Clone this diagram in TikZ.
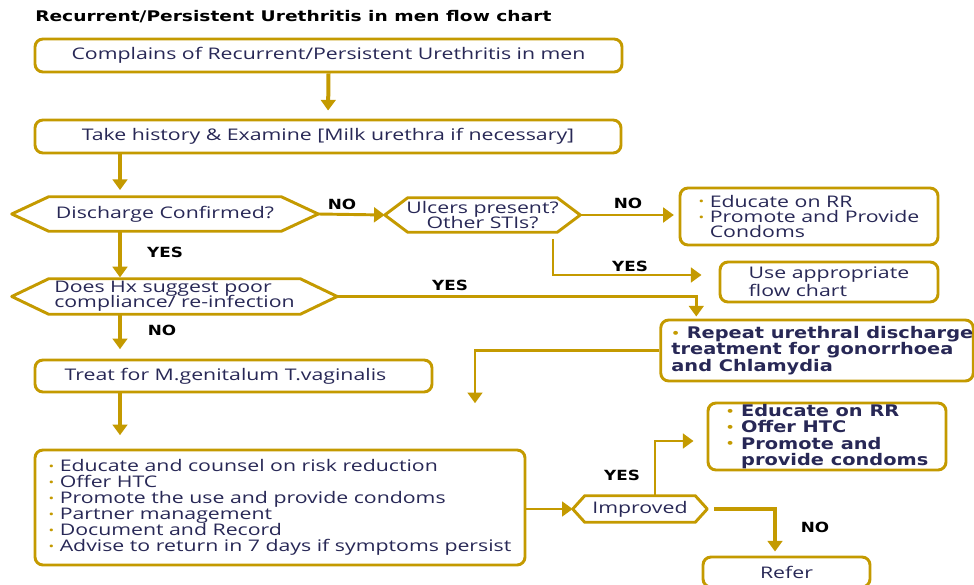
\documentclass[tikz,border=0pt]{standalone}
\usepackage{fontspec}
\setmainfont{Open Sans}[FakeStretch=1.33]
\newfontfamily\heavyfont{DejaVu Sans}[FakeStretch=1.21]
\newfontfamily\titlefont{DejaVu Sans}[FakeStretch=1.27]
\newfontfamily\labelfont{DejaVu Sans}[FakeStretch=1.2]
\usetikzlibrary{arrows.meta,calc}

\definecolor{gold}{RGB}{196,154,0}
\definecolor{ink}{RGB}{40,40,86}

% small gold bullet for list items
\newcommand{\bul}{{\color{gold}\raisebox{0.15ex}{\scalebox{0.7}{\textbullet}}}\ }
% font with a fixed line pitch, however tall the letters are
\newcommand{\setfs}[2]{\fontsize{#1}{#2}\selectfont\lineskiplimit=-20pt\relax}
% hexagonal outline around a decision node (#2 = depth of the pointed ends)
\newcommand{\hexframe}[2]{%
  \draw[hexline] (#1.west) -- ($(#1.north west)+(#2,0)$) -- ($(#1.north east)+(-#2,0)$)
    -- (#1.east) -- ($(#1.south east)+(-#2,0)$) -- ($(#1.south west)+(#2,0)$) -- cycle;}

\begin{document}
\begin{tikzpicture}[x=0.75pt,y=-0.75pt,
  txt/.style={font=\setfs{12}{12}, text=ink},
  boldtxt/.style={font=\heavyfont\bfseries\setfs{12}{12.2}, text=ink},
  box/.style={draw=gold, line width=2.2pt, rounded corners=6pt, fill=white, inner sep=0pt, align=left, txt},
  bx/.style 2 args={minimum width=#1*0.75pt, minimum height=#2*0.75pt},
  hexa/.style 2 args={minimum width=#1*0.75pt, minimum height=#2*0.75pt, inner sep=0pt, align=center, txt},
  hexline/.style={draw=gold, line width=2.2pt, line join=round},
  arr/.style={draw=gold, line width=2.2pt, -{Triangle[width=11pt,length=8pt]}},
  trunkarr/.style={arr, line width=3pt},
  lbl/.style={font=\labelfont\bfseries\fontsize{10.5}{12}\selectfont, text=black, inner sep=0pt},
]
\useasboundingbox (0,0) rectangle (974,585);

% title
\node[font=\titlefont\bfseries\fontsize{11}{12}\selectfont, text=black, anchor=west, inner sep=0pt]
  (title) at (35,17) {Recurrent/Persistent Urethritis in men flow chart};

% process boxes
\node[box, bx={587}{33}] (box1) at (328.5,55.5) {Complains of Recurrent/Persistent Urethritis in men};
\node[box, bx={586}{33}] (box2) at (328,136.5) {Take history \& Examine [Milk urethra if necessary]};
\node[box, bx={258}{57}, font=\setfs{12}{11.6}] (box3) at (809,216.5)
  {\bul Educate on RR\\\bul Promote and Provide\\\hphantom{\bul}Condoms};
\node[box, bx={218}{40}, font=\setfs{12}{13.5}] (box4) at (829,282)
  {Use appropriate\\flow chart};
\node[box, bx={312}{61}, boldtxt] (box5) at (817,350.5)
  {\hspace*{8pt}\bul Repeat urethral discharge\\\hspace*{8pt}treatment for gonorrhoea\\\hspace*{8pt}and Chlamydia};
\node[box, bx={397}{32}] (box6) at (233.5,376)
  {Treat for M.genitalum T.vaginalis\hspace*{12pt}};
\node[box, bx={490}{115}] (box7) at (280,507.5)
  {\bul Educate and counsel on risk reduction\\
   \bul Offer HTC\\
   \bul Promote the use and provide condoms\\
   \bul Partner management\\
   \bul Document and Record\\
   \bul Advise to return in 7 days if symptoms persist};
\node[box, bx={238}{67}, boldtxt] (box8) at (827,436.5)
  {\bul Educate on RR\\\bul Offer HTC\\\bul Promote and\\\hphantom{\bul}provide condoms};
\node[box, bx={167}{30}] (box9) at (786.5,572) {Refer};

% decisions
\node[hexa={306}{34}] (d1) at (165,214) {Discharge Confirmed?};
\hexframe{d1}{37}
\node[hexa={195}{34}, font=\setfs{12}{11}] (d2) at (482.5,215) {Ulcers present?\\Other STIs?};
\hexframe{d2}{23}
\node[hexa={325}{35}, font=\setfs{12}{11.4}, align=left] (d3) at (174.5,296.5)
  {Does Hx suggest poor\\compliance/ re-infection};
\hexframe{d3}{37}
\node[hexa={134}{26}] (d4) at (640,509) {Improved};
\hexframe{d4}{12}

% guide columns for the connectors
\coordinate (trunk) at (120,0);
\coordinate (ulcx) at (553,0);
\coordinate (repx) at (475,0);
\coordinate (impx) at (655,0);
\coordinate (refx) at (775,0);

% connectors
\draw[trunkarr, shorten >=6pt] (box1.south) -- (box2.north);
\draw[trunkarr, shorten >=5pt] (box2.south -| trunk) -- (d1.north -| trunk);
\draw[arr] (d1.east) -- (d2.west);
\draw[arr, shorten >=3.5pt] (d2.east) -- (d2.east -| box3.west);
\draw[arr] ($(d2.south -| ulcx)+(0,7)$) |- ($(box4.west)+(-17,-7)$);
\draw[trunkarr, shorten >=1pt] (d1.south -| trunk) -- (d3.north -| trunk);
\draw[arr, shorten >=1.5pt] (d3.east) -| ($(box5.north west)+(37,0)$);
\draw[trunkarr, shorten >=7pt] (d3.south -| trunk) -- (box6.north -| trunk);
\draw[arr, shorten >=34pt] (box5.west) -| (box7.north -| repx);
\draw[trunkarr, shorten >=10pt] (box6.south -| trunk) -- (box7.north -| trunk);
\draw[arr] (d4.west -| box7.east) -- (d4.west);
\draw[arr] (d4.north -| impx) |- ($(box8.west)+(-13,4.5)$);
\draw[trunkarr, shorten >=3pt] ($(d4.east)+(7,0)$) -| (box9.north -| refx);

% branch labels
\node[lbl] (l1) at (342,204) {NO};
\node[lbl] (l2) at (628,203) {NO};
\node[lbl] (l3) at (630,266) {YES};
\node[lbl] (l4) at (165,252) {YES};
\node[lbl] (l5) at (450,285) {YES};
\node[lbl] (l6) at (162,330) {NO};
\node[lbl] (l7) at (622,475) {YES};
\node[lbl] (l8) at (815,527) {NO};
\end{tikzpicture}
\end{document}
